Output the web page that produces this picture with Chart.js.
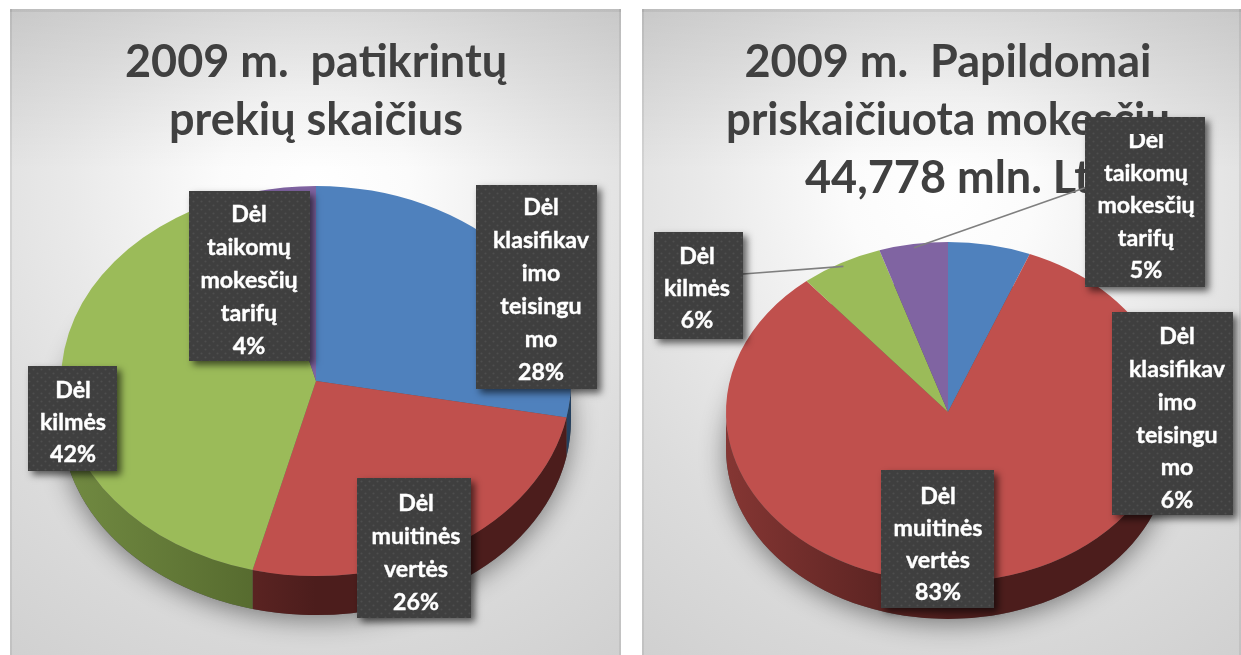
<!DOCTYPE html>
<html lang="lt">
<head>
<meta charset="utf-8">
<title>2009 m. patikrinimai</title>
<script src="https://cdn.jsdelivr.net/npm/chart.js@4"></script>
<style>
html,body{margin:0;padding:0;background:#fff;width:1241px;height:655px;overflow:hidden}
.panel{position:absolute;top:9px;height:646px;box-sizing:border-box;
 background:linear-gradient(to bottom,rgba(0,0,0,.10),rgba(0,0,0,0) 160px),
  radial-gradient(ellipse 62% 62% at 50% 28%,#ffffff 0%,#fbfbfb 25%,#e9e9e9 65%,#dcdcdc 100%,#d0d0d0 142%);
 box-shadow:inset 0 3px 0 rgba(0,0,0,.06),inset 2px 0 0 rgba(0,0,0,.07),inset -2px 0 0 rgba(0,0,0,.07)}
canvas{position:absolute;top:0;left:0;filter:blur(.45px)}
</style>
</head>
<body>
<div class="panel" style="left:10px;width:611px"><canvas id="c1" width="611" height="646"></canvas></div>
<div class="panel" style="left:642px;width:599px"><canvas id="c2" width="599" height="646"></canvas></div>
<script>
// ---- data ----
const categories = [
  ['Dėl', 'klasifikav', 'imo', 'teisingu', 'mo'],
  ['Dėl', 'muitinės', 'vertės'],
  ['Dėl', 'kilmės'],
  ['Dėl', 'taikomų', 'mokesčių', 'tarifų']
];
const goodsShares = [28, 26, 42, 4];
const amountShares = [6, 83, 6, 5];
const goodsTitle = ['2009 m.  patikrintų', 'prekių skaičius'];
const amountTitle = ['2009 m.  Papildomai', 'priskaičiuota mokesčių', '44,778 mln. Lt'];

// ---- styles ----
const sliceColors = ['#4f81bd', '#c0504d', '#9bbb59', '#8064a2'];
const sideLight = ['#2d4a6e', '#853633', '#728b42', '#5a4672'];
const sideDark = ['#24405f', '#4c1d1c', '#4e6129', '#43345a'];
const FONT = 'Lato, Carlito, "Open Sans", sans-serif';

// label boxes in page pixels: box x, y, w, h, text centre x, first line centre y, line step
const goodsBoxes = [
  {x:476,y:185,w:121,h:204,tx:541,ty:208,step:33},
  {x:357,y:478,w:114,h:140,tx:416,ty:504,step:33},
  {x:28,y:366,w:89,h:105,tx:73,ty:391,step:32},
  {x:189,y:191,w:121,h:170,tx:249,ty:215,step:33}
];
const amountBoxes = [
  {x:1112,y:312,w:121,h:203,tx:1177,ty:337,step:32.7},
  {x:881,y:470,w:113,h:138,tx:938,ty:497,step:32},
  {x:654,y:232,w:89,h:107,tx:697,ty:257,step:32},
  {x:1085,y:117,w:120,h:170,tx:1146,ty:141,step:32.5,clipTop:134}
];
const amountLeaders = {2:{x:743,y:274}, 3:{x:1090,y:186}};

function dotPattern(ctx){
  const t = document.createElement('canvas');
  t.width = t.height = 8;
  const g = t.getContext('2d');
  g.fillStyle = '#3f3f3f';
  g.fillRect(0,0,8,8);
  g.fillStyle = 'rgba(255,255,255,.08)';
  [[1,1],[5,5]].forEach(p => { g.beginPath(); g.arc(p[0]+.5,p[1]+.5,1.1,0,Math.PI*2); g.fill(); });
  return ctx.createPattern(t,'repeat');
}

const pie3d = {
  id:'pie3d',
  beforeDatasetsDraw(chart, args, o){
    const ctx = chart.ctx, arcs = chart.getDatasetMeta(0).data;
    const a0 = arcs[0], cx = a0.x, cy = a0.y, rx = a0.outerRadius, ry = rx*o.squash, d = o.depth;
    // soft shadow beneath the pie
    ctx.save();
    ctx.shadowColor = 'rgba(0,0,0,.45)';
    ctx.shadowBlur = 26;
    ctx.shadowOffsetY = 5;
    ctx.fillStyle = '#555';
    ctx.beginPath();
    ctx.ellipse(cx,cy+d,rx,ry,0,0,Math.PI*2);
    ctx.fill();
    ctx.restore();
    // front wall of every slice
    arcs.forEach((arc,i)=>{
      const a = Math.max(arc.startAngle,0), b = Math.min(arc.endAngle,Math.PI);
      if (b <= a) return;
      const g = ctx.createLinearGradient(cx-rx,0,cx+rx,0);
      g.addColorStop(0,sideLight[i]);
      g.addColorStop(.5,sideDark[i]);
      g.addColorStop(1,sideDark[i]);
      ctx.fillStyle = g;
      ctx.beginPath();
      ctx.ellipse(cx,cy,rx,ry,0,a,b);
      ctx.ellipse(cx,cy+d,rx,ry,0,b,a,true);
      ctx.closePath();
      ctx.fill();
    });
    // squash the round pie into the tilted ellipse
    ctx.save();
    ctx.translate(cx,cy);
    ctx.scale(1,o.squash);
    ctx.translate(-cx,-cy);
  },
  afterDatasetsDraw(chart, args, o){
    const ctx = chart.ctx;
    ctx.restore();
    const meta = chart.getDatasetMeta(0).data, ds = chart.data.datasets[0].data;
    ctx.save();
    ctx.translate(-o.ox,-o.oy);
    // leader lines
    Object.entries(o.leaders||{}).forEach(([i,end])=>{
      const arc = meta[i], mid = (arc.startAngle+arc.endAngle)/2;
      ctx.beginPath();
      ctx.moveTo(arc.x+o.ox+Math.cos(mid)*(arc.outerRadius-5), arc.y+o.oy+Math.sin(mid)*(arc.outerRadius-5)*o.squash);
      ctx.lineTo(end.x,end.y);
      ctx.strokeStyle = '#7f7f7f';
      ctx.lineWidth = 1.6;
      ctx.stroke();
    });
    // label boxes
    const pat = dotPattern(ctx);
    chart.data.labels.forEach((lines,i)=>{
      const b = o.boxes[i];
      ctx.save();
      ctx.shadowColor = 'rgba(0,0,0,.6)';
      ctx.shadowBlur = 7;
      ctx.shadowOffsetX = 4;
      ctx.shadowOffsetY = 4;
      ctx.fillStyle = '#3f3f3f';
      ctx.fillRect(b.x,b.y,b.w,b.h);
      ctx.restore();
      ctx.fillStyle = pat;
      ctx.fillRect(b.x,b.y,b.w,b.h);
      ctx.save();
      if (b.clipTop){ ctx.beginPath(); ctx.rect(b.x,b.clipTop,b.w,b.h); ctx.clip(); }
      ctx.fillStyle = '#fff';
      ctx.strokeStyle = '#fff';
      ctx.lineWidth = .4;
      ctx.font = 'bold 23.2px '+FONT;
      ctx.textAlign = 'center';
      ctx.textBaseline = 'middle';
      lines.concat([ds[i]+'%']).forEach((s,k)=>{
        ctx.fillText(s,b.tx,b.ty+k*b.step);
        ctx.strokeText(s,b.tx,b.ty+k*b.step);
      });
      ctx.restore();
    });
    ctx.restore();
  }
};

function makeChart(id, title, values, cfg){
  return new Chart(document.getElementById(id),{
    type:'pie',
    data:{labels:categories,datasets:[{data:values,backgroundColor:sliceColors,borderWidth:0}]},
    options:{
      responsive:false,animation:false,
      layout:{padding:cfg.padding},
      plugins:{
        legend:{display:false},tooltip:{enabled:false},
        title:{display:true,text:title,color:'#404040',
          font:{family:FONT,weight:'bold',size:45,lineHeight:58/45},
          padding:cfg.titlePadding},
        pie3d:cfg.pie
      }
    },
    plugins:[pie3d]
  });
}

makeChart('c1',goodsTitle,goodsShares,{
  padding:{left:51,right:50,top:0,bottom:19},
  titlePadding:{top:24,bottom:-23},
  pie:{squash:.765,depth:39,boxes:goodsBoxes,ox:10,oy:9}
});
makeChart('c2',amountTitle,amountShares,{
  padding:{left:84,right:71,top:0,bottom:21},
  titlePadding:{top:24,bottom:-17},
  pie:{squash:.766,depth:37,boxes:amountBoxes,leaders:amountLeaders,ox:642,oy:9}
});
</script>
</body>
</html>
